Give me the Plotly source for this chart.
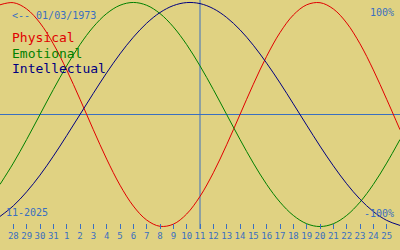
import plotly.graph_objects as go

# day index 0 = Oct 28 (2025); range covers index -1 .. 29
day_index = list(range(-1, 30))
tick_index = list(range(0, 29))
tick_labels = ["28", "29", "30", "31", "1", "2", "3", "4", "5", "6", "7", "8", "9", "10",
               "11", "12", "13", "14", "15", "16", "17", "18", "19", "20", "21", "22",
               "23", "24", "25"]

physical = [0.979, 0.998, 0.942, 0.817, 0.631, 0.398, 0.136, -0.136, -0.398, -0.631,
            -0.817, -0.942, -0.998, -0.979, -0.888, -0.731, -0.520, -0.270, 0.0, 0.270,
            0.520, 0.731, 0.888, 0.979, 0.998, 0.942, 0.817, 0.631, 0.398, 0.136, -0.136]
emotional = [-0.624, -0.434, -0.223, 0.0, 0.223, 0.434, 0.624, 0.782, 0.901, 0.975,
             1.0, 0.975, 0.901, 0.782, 0.624, 0.434, 0.223, 0.0, -0.223, -0.434,
             -0.624, -0.782, -0.901, -0.975, -1.0, -0.975, -0.901, -0.782, -0.624, -0.434, -0.223]
intellectual = [-0.910, -0.815, -0.690, -0.541, -0.372, -0.189, 0.0, 0.189, 0.372, 0.541,
                0.690, 0.815, 0.910, 0.972, 0.999, 0.990, 0.945, 0.866, 0.756, 0.618,
                0.458, 0.282, 0.095, -0.095, -0.282, -0.458, -0.618, -0.756, -0.866, -0.945, -0.990]
today_index = 14

BG = "#e0d282"
ACC = "#3a6fc0"
MONO = "DejaVu Sans Mono"

fig = go.Figure()
fig.add_trace(go.Scatter(x=day_index, y=physical, mode="lines", line=dict(color="#e00000", width=1, shape="spline"), hoverinfo="skip"))
fig.add_trace(go.Scatter(x=day_index, y=emotional, mode="lines", line=dict(color="#008000", width=1, shape="spline"), hoverinfo="skip"))
fig.add_trace(go.Scatter(x=day_index, y=intellectual, mode="lines", line=dict(color="#000080", width=1, shape="spline"), hoverinfo="skip"))

fig.add_shape(type="line", xref="paper", yref="y", x0=0, x1=1, y0=0, y1=0, line=dict(color=ACC, width=1), layer="below")
fig.add_shape(type="line", xref="x", yref="paper", x0=today_index, x1=today_index, y0=0, y1=1, line=dict(color=ACC, width=1), layer="below")

PH = 229.0
def py(pix):
    return 1 - pix / PH

ann = [
    ("<-- 01/03/1973", 10, 16, 10, ACC, "left"),
    ("Physical", 10, 38, 13, "#e00000", "left"),
    ("Emotional", 10, 53, 13, "#008000", "left"),
    ("Intellectual", 10, 68, 13, "#000080", "left"),
    ("100%", 396, 12, 10, ACC, "right"),
    ("-100%", 396, 213, 10, ACC, "right"),
    ("11-2025", 4, 212, 10, ACC, "left"),
]
for text, x, y, size, color, anchor in ann:
    fig.add_annotation(text=text, xref="paper", yref="paper", x=x / 400.0, y=py(y),
                       xanchor=anchor, yanchor="middle", showarrow=False,
                       font=dict(family=MONO, size=size, color=color))

fig.update_layout(
    width=400, height=250,
    margin=dict(l=0, r=0, t=0, b=21),
    paper_bgcolor=BG, plot_bgcolor=BG,
    showlegend=False,
    xaxis=dict(range=[-1, 29], tickvals=tick_index, ticktext=tick_labels,
               tickangle=0, ticks="inside", ticklen=5, tickcolor=ACC, tickwidth=1,
               showgrid=False, zeroline=False, showline=False,
               tickfont=dict(family=MONO, size=9, color=ACC)),
    yaxis=dict(range=[-1.022, 1.022], visible=False, showgrid=False, zeroline=False),
)

fig.write_html("out.html")
